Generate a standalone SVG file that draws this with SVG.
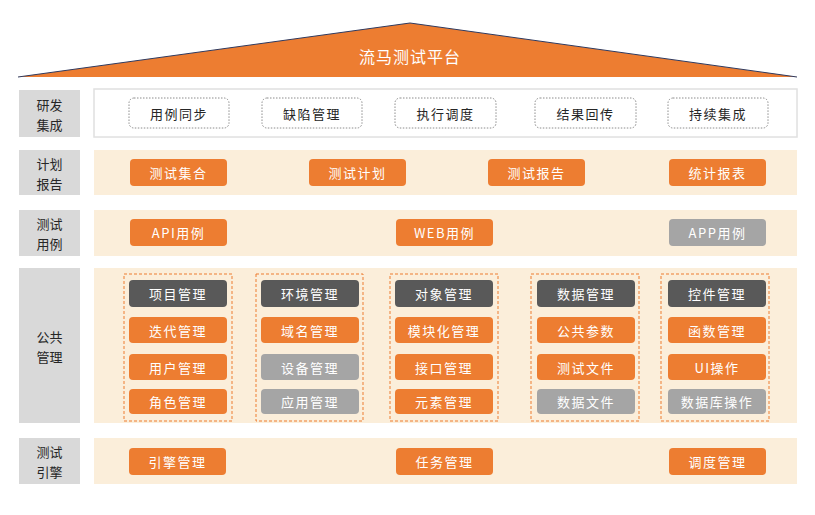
<svg xmlns="http://www.w3.org/2000/svg" width="815" height="515" viewBox="0 0 815 515">
<style>
text{font-family:"Noto Sans CJK SC","Liberation Sans",sans-serif;text-anchor:middle;dominant-baseline:central}
.lab{fill:#D9D9D9}
.labt{font-size:13px;fill:#262626}
.band{fill:#FBEEDA}
.o{fill:#ED7D31}
.d{fill:#595959}
.g{fill:#A5A5A5}
.nt{font-size:13px;fill:#FFFFFF;letter-spacing:1.5px}
.dn{fill:#FFFFFF;stroke:#8C8C8C;stroke-width:1;stroke-dasharray:1.5 1.5}
.dt{font-size:13px;fill:#262626;letter-spacing:1.5px}
.col{fill:none;stroke:#ED7D31;stroke-width:1;stroke-dasharray:3 2}
</style>
<rect width="815" height="515" fill="#FFFFFF"/>
<g id="roof">
<polygon points="18,77 410,23 797,77" fill="#ED7D31"/>
<polyline points="18,77 410,23 797,77" fill="none" stroke="#2F3A5F" stroke-width="1"/>
<text x="410" y="56" style="font-size:16px;fill:#FFFFFF;letter-spacing:1px">流马测试平台</text>
</g>
<g id="row-dev">
<rect class="lab" x="19" y="90" width="61" height="47"/>
<text class="labt"><tspan x="49.5" y="104">研发</tspan><tspan x="49.5" y="123.5">集成</tspan></text>
<rect x="94" y="89" width="703" height="48" fill="#FFFFFF" stroke="#E0E0E0" stroke-width="1.5"/>
<g id="n-ylsync"><rect class="dn" x="129" y="98" width="100" height="30" rx="5"/><text class="dt" x="179" y="113">用例同步</text></g>
<g id="n-qxgl"><rect class="dn" x="262" y="98" width="100" height="30" rx="5"/><text class="dt" x="312" y="113">缺陷管理</text></g>
<g id="n-zxdd"><rect class="dn" x="395" y="98" width="101" height="30" rx="5"/><text class="dt" x="445.5" y="113">执行调度</text></g>
<g id="n-jghc"><rect class="dn" x="535" y="98" width="101" height="30" rx="5"/><text class="dt" x="585.5" y="113">结果回传</text></g>
<g id="n-cxjc"><rect class="dn" x="668" y="98" width="100" height="30" rx="5"/><text class="dt" x="718" y="113">持续集成</text></g>
</g>
<g id="row-plan">
<rect class="lab" x="19" y="150" width="61" height="45"/>
<text class="labt"><tspan x="49.5" y="163">计划</tspan><tspan x="49.5" y="182.5">报告</tspan></text>
<rect class="band" x="94" y="150" width="703" height="45"/>
<g id="n-csjh"><rect class="o" x="130" y="159" width="97" height="27" rx="4"/><text class="nt" x="178.5" y="172.5">测试集合</text></g>
<g id="n-csjhua"><rect class="o" x="309" y="159" width="97" height="27" rx="4"/><text class="nt" x="357.5" y="172.5">测试计划</text></g>
<g id="n-csbg"><rect class="o" x="488" y="159" width="97" height="27" rx="4"/><text class="nt" x="536.5" y="172.5">测试报告</text></g>
<g id="n-tjbb"><rect class="o" x="669" y="159" width="97" height="27" rx="4"/><text class="nt" x="717.5" y="172.5">统计报表</text></g>
</g>
<g id="row-case">
<rect class="lab" x="19" y="210" width="61" height="46"/>
<text class="labt"><tspan x="49.5" y="223">测试</tspan><tspan x="49.5" y="242.5">用例</tspan></text>
<rect class="band" x="94" y="210" width="703" height="46"/>
<g id="n-api"><rect class="o" x="130" y="219" width="97" height="27" rx="4"/><text class="nt" x="178.5" y="232.5">API用例</text></g>
<g id="n-web"><rect class="o" x="396" y="219" width="97" height="27" rx="4"/><text class="nt" x="444.5" y="232.5">WEB用例</text></g>
<g id="n-app"><rect class="g" x="669" y="219" width="97" height="27" rx="4"/><text class="nt" x="717.5" y="232.5">APP用例</text></g>
</g>
<g id="row-common">
<rect class="lab" x="19" y="268" width="61" height="155"/>
<text class="labt"><tspan x="49.5" y="336">公共</tspan><tspan x="49.5" y="355.5">管理</tspan></text>
<rect class="band" x="94" y="268" width="703" height="155"/>
<g id="col1">
<rect class="col" x="124" y="274" width="108" height="147"/>
<g id="n-xmgl"><rect class="d" x="129" y="280" width="98" height="27" rx="4"/><text class="nt" x="178" y="293.5">项目管理</text></g>
<g id="n-ddgl"><rect class="o" x="129" y="317" width="98" height="26" rx="4"/><text class="nt" x="178" y="330">迭代管理</text></g>
<g id="n-yhgl"><rect class="o" x="129" y="354" width="98" height="26" rx="4"/><text class="nt" x="178" y="367">用户管理</text></g>
<g id="n-jsgl"><rect class="o" x="129" y="389" width="98" height="25" rx="4"/><text class="nt" x="178" y="401.5">角色管理</text></g>
</g>
<g id="col2">
<rect class="col" x="256" y="274" width="107" height="147"/>
<g id="n-hjgl"><rect class="d" x="261" y="280" width="98" height="27" rx="4"/><text class="nt" x="310" y="293.5">环境管理</text></g>
<g id="n-ymgl"><rect class="o" x="261" y="317" width="98" height="26" rx="4"/><text class="nt" x="310" y="330">域名管理</text></g>
<g id="n-sbgl"><rect class="g" x="261" y="354" width="98" height="26" rx="4"/><text class="nt" x="310" y="367">设备管理</text></g>
<g id="n-yygl"><rect class="g" x="261" y="389" width="98" height="25" rx="4"/><text class="nt" x="310" y="401.5">应用管理</text></g>
</g>
<g id="col3">
<rect class="col" x="390" y="274" width="108" height="147"/>
<g id="n-dxgl"><rect class="d" x="395" y="280" width="98" height="27" rx="4"/><text class="nt" x="444" y="293.5">对象管理</text></g>
<g id="n-mkhgl"><rect class="o" x="395" y="317" width="98" height="26" rx="4"/><text class="nt" x="444" y="330">模块化管理</text></g>
<g id="n-jkgl"><rect class="o" x="395" y="354" width="98" height="26" rx="4"/><text class="nt" x="444" y="367">接口管理</text></g>
<g id="n-ysgl"><rect class="o" x="395" y="389" width="98" height="25" rx="4"/><text class="nt" x="444" y="401.5">元素管理</text></g>
</g>
<g id="col4">
<rect class="col" x="531" y="274" width="108" height="147"/>
<g id="n-sjgl"><rect class="d" x="537" y="280" width="98" height="27" rx="4"/><text class="nt" x="586" y="293.5">数据管理</text></g>
<g id="n-ggcs"><rect class="o" x="537" y="317" width="98" height="26" rx="4"/><text class="nt" x="586" y="330">公共参数</text></g>
<g id="n-cswj"><rect class="o" x="537" y="354" width="98" height="26" rx="4"/><text class="nt" x="586" y="367">测试文件</text></g>
<g id="n-sjwj"><rect class="g" x="537" y="389" width="98" height="25" rx="4"/><text class="nt" x="586" y="401.5">数据文件</text></g>
</g>
<g id="col5">
<rect class="col" x="661" y="274" width="108" height="147"/>
<g id="n-kjgl"><rect class="d" x="668" y="280" width="98" height="27" rx="4"/><text class="nt" x="717" y="293.5">控件管理</text></g>
<g id="n-hsgl"><rect class="o" x="668" y="317" width="98" height="26" rx="4"/><text class="nt" x="717" y="330">函数管理</text></g>
<g id="n-uicz"><rect class="o" x="668" y="354" width="98" height="26" rx="4"/><text class="nt" x="717" y="367">UI操作</text></g>
<g id="n-sjkcz"><rect class="g" x="668" y="389" width="98" height="25" rx="4"/><text class="nt" x="717" y="401.5">数据库操作</text></g>
</g>
</g>
<g id="row-engine">
<rect class="lab" x="19" y="438" width="61" height="46"/>
<text class="labt"><tspan x="49.5" y="451">测试</tspan><tspan x="49.5" y="470.5">引擎</tspan></text>
<rect class="band" x="94" y="438" width="703" height="46"/>
<g id="n-yqgl"><rect class="o" x="129" y="448" width="97" height="27" rx="4"/><text class="nt" x="177.5" y="461.5">引擎管理</text></g>
<g id="n-rwgl"><rect class="o" x="396" y="448" width="97" height="27" rx="4"/><text class="nt" x="444.5" y="461.5">任务管理</text></g>
<g id="n-ddgl2"><rect class="o" x="669" y="448" width="97" height="27" rx="4"/><text class="nt" x="717.5" y="461.5">调度管理</text></g>
</g>
<g id="connectors"></g>
</svg>
